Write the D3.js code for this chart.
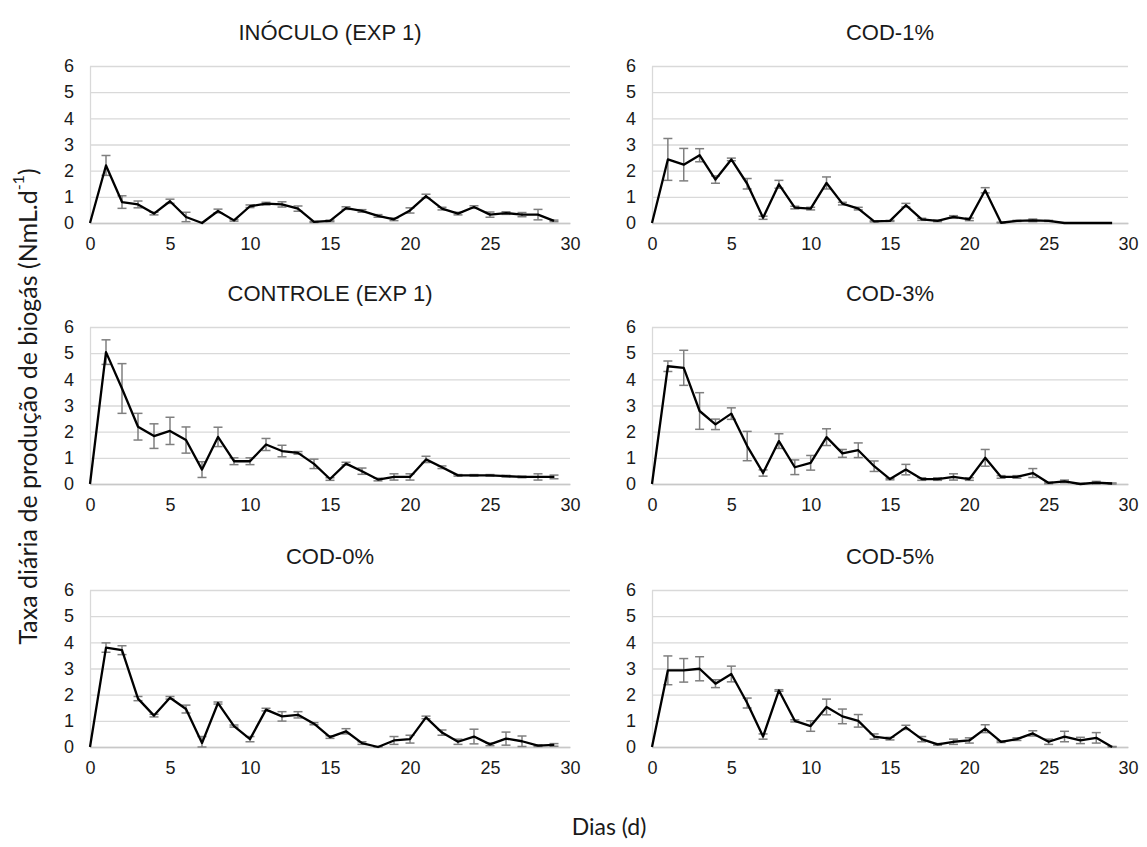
<!DOCTYPE html>
<html>
<head>
<meta charset="utf-8">
<script src="https://cdn.jsdelivr.net/npm/d3@7"></script>
<style>
  body { margin: 0; background: #fff; }
</style>
</head>
<body>
<div id="chart"></div>
<script>
// days 0..29
const days = d3.range(0, 30);
const xTicks = [0, 5, 10, 15, 20, 25, 30];
const yTicks = [0, 1, 2, 3, 4, 5, 6];

const inoculo    = [0, 2.2, 0.8, 0.71, 0.36, 0.83, 0.23, 0.0, 0.46, 0.1, 0.64, 0.74, 0.71, 0.55, 0.04, 0.08, 0.57, 0.46, 0.27, 0.14, 0.48, 1.03, 0.55, 0.36, 0.61, 0.32, 0.38, 0.32, 0.32, 0.08];
const inoculoErr = [0, 0.38, 0.24, 0.13, 0.05, 0.08, 0.18, 0, 0.07, 0.03, 0.05, 0.05, 0.1, 0.1, 0.02, 0.03, 0.05, 0.05, 0.05, 0.05, 0.1, 0.07, 0.05, 0.05, 0.05, 0.1, 0.05, 0.08, 0.2, 0.03];

const cod1    = [0, 2.43, 2.23, 2.59, 1.66, 2.43, 1.5, 0.2, 1.48, 0.59, 0.55, 1.53, 0.74, 0.55, 0.06, 0.08, 0.68, 0.14, 0.08, 0.23, 0.14, 1.25, 0.01, 0.08, 0.1, 0.08, 0, 0, 0, 0];
const cod1Err = [0, 0.8, 0.62, 0.25, 0.14, 0.05, 0.2, 0.06, 0.15, 0.05, 0.05, 0.23, 0.05, 0.05, 0.02, 0.02, 0.07, 0.04, 0.03, 0.05, 0.05, 0.1, 0.02, 0.02, 0.05, 0.02, 0, 0, 0, 0];

const controle    = [0, 5.04, 3.65, 2.19, 1.83, 2.03, 1.68, 0.55, 1.8, 0.87, 0.87, 1.51, 1.26, 1.19, 0.77, 0.19, 0.78, 0.49, 0.17, 0.27, 0.27, 0.94, 0.64, 0.33, 0.33, 0.33, 0.3, 0.27, 0.27, 0.27];
const controleErr = [0, 0.47, 0.95, 0.51, 0.47, 0.52, 0.5, 0.3, 0.37, 0.13, 0.13, 0.23, 0.22, 0.05, 0.18, 0.05, 0.05, 0.12, 0.05, 0.12, 0.12, 0.12, 0.05, 0.03, 0.03, 0.03, 0.03, 0.03, 0.12, 0.07];

const cod3    = [0, 4.5, 4.44, 2.79, 2.28, 2.69, 1.45, 0.42, 1.64, 0.64, 0.81, 1.79, 1.17, 1.29, 0.68, 0.19, 0.55, 0.19, 0.19, 0.27, 0.19, 1.0, 0.27, 0.27, 0.42, 0.04, 0.1, 0.0, 0.05, 0.02];
const cod3Err = [0, 0.2, 0.67, 0.7, 0.2, 0.22, 0.56, 0.12, 0.28, 0.28, 0.28, 0.32, 0.15, 0.28, 0.2, 0.03, 0.2, 0.05, 0.05, 0.12, 0.05, 0.32, 0.05, 0.05, 0.17, 0.03, 0.05, 0.02, 0.05, 0.02];

const cod0    = [0, 3.8, 3.7, 1.85, 1.2, 1.88, 1.45, 0.15, 1.68, 0.8, 0.3, 1.43, 1.17, 1.23, 0.89, 0.38, 0.6, 0.15, 0.0, 0.25, 0.3, 1.13, 0.55, 0.2, 0.4, 0.1, 0.32, 0.22, 0.05, 0.08];
const cod0Err = [0, 0.18, 0.17, 0.08, 0.05, 0.05, 0.15, 0.25, 0.04, 0.04, 0.1, 0.05, 0.18, 0.12, 0.04, 0.05, 0.1, 0.05, 0.02, 0.15, 0.15, 0.05, 0.1, 0.1, 0.28, 0.05, 0.25, 0.2, 0.03, 0.05];

const cod5    = [0, 2.93, 2.93, 2.99, 2.42, 2.79, 1.68, 0.4, 2.16, 1.0, 0.8, 1.53, 1.17, 1.0, 0.4, 0.32, 0.75, 0.3, 0.1, 0.2, 0.25, 0.7, 0.2, 0.3, 0.52, 0.2, 0.4, 0.25, 0.35, 0.0];
const cod5Err = [0, 0.55, 0.45, 0.46, 0.15, 0.3, 0.19, 0.1, 0.03, 0.04, 0.2, 0.3, 0.28, 0.24, 0.1, 0.05, 0.08, 0.1, 0.03, 0.1, 0.1, 0.15, 0.03, 0.05, 0.1, 0.1, 0.2, 0.12, 0.2, 0.02];

const panels = [
  { title: 'INÓCULO (EXP 1)',  values: inoculo,  err: inoculoErr,  col: 0, row: 0 },
  { title: 'COD-1%',           values: cod1,     err: cod1Err,     col: 1, row: 0 },
  { title: 'CONTROLE (EXP 1)', values: controle, err: controleErr, col: 0, row: 1 },
  { title: 'COD-3%',           values: cod3,     err: cod3Err,     col: 1, row: 1 },
  { title: 'COD-0%',           values: cod0,     err: cod0Err,     col: 0, row: 2 },
  { title: 'COD-5%',           values: cod5,     err: cod5Err,     col: 1, row: 2 }
];

const width = 1147, height = 847;
const colX = [[90, 570], [652, 1128]];
const rowTop = [66, 327, 590];
const plotH = 157;
const tickFont = '"Liberation Sans", Arial, sans-serif';

const svg = d3.select('#chart')
  .append('svg')
  .attr('width', width)
  .attr('height', height)
  .style('font-family', tickFont);

panels.forEach(p => {
  const [x0, x1] = colX[p.col];
  const top = rowTop[p.row];
  const x = d3.scaleLinear().domain([0, 30]).range([x0, x1]);
  const y = d3.scaleLinear().domain([0, 6]).range([top + plotH, top]);

  const g = svg.append('g');

  // gridlines + y labels
  g.append('g')
    .attr('transform', `translate(${x0},0)`)
    .call(d3.axisLeft(y).tickValues(yTicks).tickFormat(d3.format('d'))
      .tickSize(-(x1 - x0)).tickSizeOuter(0).tickPadding(16))
    .call(a => a.select('.domain').attr('stroke', '#d9d9d9').attr('stroke-width', 1.3))
    .call(a => a.selectAll('.tick line').attr('stroke', '#d9d9d9').attr('stroke-width', 1.3))
    .call(a => a.selectAll('.tick text').attr('fill', '#1a1a1a').attr('font-size', 18).attr('font-family', tickFont));

  // x axis
  g.append('g')
    .attr('transform', `translate(0,${top + plotH})`)
    .call(d3.axisBottom(x).tickValues(xTicks).tickFormat(d3.format('d')).tickSize(0).tickPadding(14))
    .call(a => a.select('.domain').attr('stroke', '#c8c8c8').attr('stroke-width', 1.3))
    .call(a => a.selectAll('.tick text').attr('fill', '#1a1a1a').attr('font-size', 18).attr('font-family', tickFont));

  // title
  g.append('text')
    .attr('x', (x0 + x1) / 2)
    .attr('y', top - 34)
    .attr('text-anchor', 'middle')
    .attr('dominant-baseline', 'central')
    .attr('font-size', 22)
    .attr('fill', '#1a1a1a')
    .text(p.title);

  const pts = days.map(d => ({ d, v: p.values[d], e: p.err[d] }));

  // error bars
  const eb = g.append('g')
    .attr('stroke', '#7f7f7f')
    .attr('stroke-width', 1.5)
    .selectAll('g')
    .data(pts.filter(q => q.e > 0))
    .join('g');
  eb.append('line')
    .attr('x1', q => x(q.d)).attr('x2', q => x(q.d))
    .attr('y1', q => y(q.v + q.e)).attr('y2', q => y(Math.max(0, q.v - q.e)));
  eb.append('line')
    .attr('x1', q => x(q.d) - 4.5).attr('x2', q => x(q.d) + 4.5)
    .attr('y1', q => y(q.v + q.e)).attr('y2', q => y(q.v + q.e));
  eb.append('line')
    .attr('x1', q => x(q.d) - 4.5).attr('x2', q => x(q.d) + 4.5)
    .attr('y1', q => y(Math.max(0, q.v - q.e))).attr('y2', q => y(Math.max(0, q.v - q.e)));

  // line
  const line = d3.line().x(q => x(q.d)).y(q => y(q.v));
  g.append('path')
    .datum(pts)
    .attr('fill', 'none')
    .attr('stroke', '#000')
    .attr('stroke-width', 2.3)
    .attr('stroke-linejoin', 'round')
    .attr('d', line);
});

// axis titles
svg.append('text')
  .attr('x', (colX[0][0] + colX[1][1]) / 2)
  .attr('y', 826)
  .attr('text-anchor', 'middle')
  .attr('dominant-baseline', 'central')
  .attr('font-family', 'Lato, "Open Sans", sans-serif')
  .attr('font-size', 23)
  .attr('fill', '#1a1a1a')
  .text('Dias (d)');

const yt = svg.append('text')
  .attr('transform', `translate(27,${(rowTop[0] + rowTop[2] + plotH) / 2}) rotate(-90)`)
  .attr('text-anchor', 'middle')
  .attr('dominant-baseline', 'central')
  .attr('font-family', 'Lato, "Open Sans", sans-serif')
  .attr('font-size', 25)
  .attr('fill', '#1a1a1a');
yt.append('tspan').text('Taxa diária de produção de biogás (NmL.d');
yt.append('tspan').attr('font-size', 16).attr('dy', -10).text('-1');
yt.append('tspan').attr('dy', 10).text(')');
</script>
</body>
</html>
